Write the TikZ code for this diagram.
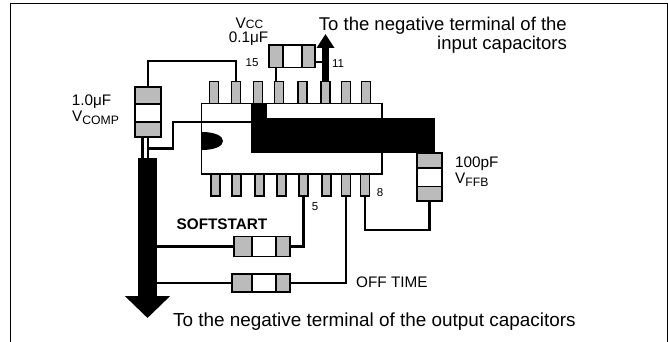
\documentclass[tikz,border=0pt]{standalone}
\usepackage{fontspec}
\setmainfont{Liberation Sans}
\usetikzlibrary{arrows.meta,positioning}
\newcommand{\lowtext}[1]{\raisebox{-3pt}{\fontsize{12.2}{12.2}\selectfont #1}}
\definecolor{pingray}{HTML}{BBBBBB}
\tikzset{
	wire/.style={line width=2.2pt},
	part/.style={draw,line width=1.2pt,inner sep=0pt,outer sep=0pt},
	pinbox/.style={part,fill=pingray,minimum width=9pt,minimum height=22pt},
	lbl/.style={inner sep=0pt,font=\fontsize{15.3}{17}\selectfont},
	biglbl/.style={inner sep=0pt,font=\fontsize{18.5}{19}\selectfont},
	numlbl/.style={inner sep=0pt,font=\fontsize{11.5}{12}\selectfont},
}
\begin{document}
\begin{tikzpicture}[x=1pt,y=-1pt]
	\useasboundingbox (0,0) rectangle (668,342);
	\draw[line width=1pt] (10.5,342) -- (10.5,3.7) -- (667,3.7) -- (667,342);
	
	% package with its pins
	\node[part,fill=white,minimum width=180.5pt,minimum height=70.5pt] (ic) at (291.75,138.75) {};
	\foreach \n/\px in {1/214,2/236,3/258,4/279,5/302.5,6/325.5,7/346,8/366}
		\node[pinbox] (top\n) at (\px,92.25) {};
	\foreach \n/\px in {1/215.5,2/236.5,3/259.5,4/281.5,5/303.5,6/326.5,7/346,8/365}
		\node[pinbox] (bot\n) at (\px,185) {};
	
	% black areas
	\node[fill=black,inner sep=0pt,minimum width=184pt,minimum height=35pt,anchor=north west] (plane) at (251,118) {};
	\node[fill=black,inner sep=0pt,minimum width=16pt,minimum height=15pt,anchor=south west] (tab) at (251,118.2) {};
	\fill (202,132) .. controls (215,132) and (223,136) .. (223,141) .. controls (223,146) and (215,150) .. (202,150) -- cycle;
	
	% upright capacitors
	\node[part,fill=pingray,minimum width=26pt,minimum height=17pt] (compa) at (148,95.5) {};
	\node[part,fill=white,minimum width=26pt,minimum height=18pt,below=0pt of compa] (compb) {};
	\node[part,fill=pingray,minimum width=26pt,minimum height=15pt,below=0pt of compb] (compc) {};
	\node[part,fill=pingray,minimum width=25pt,minimum height=15pt] (ffba) at (429.5,160.5) {};
	\node[part,fill=white,minimum width=25pt,minimum height=18.5pt,below=0pt of ffba] (ffbb) {};
	\node[part,fill=pingray,minimum width=25pt,minimum height=14.5pt,below=0pt of ffbb] (ffbc) {};
	
	% lying capacitors
	\node[part,fill=pingray,minimum width=14pt,minimum height=22.5pt] (vcca) at (276,56.3) {};
	\node[part,fill=white,minimum width=19pt,minimum height=22.5pt,right=0pt of vcca] (vccb) {};
	\node[part,fill=pingray,minimum width=13pt,minimum height=22.5pt,right=0pt of vccb] (vccc) {};
	\node[part,fill=pingray,minimum width=18pt,minimum height=19.5pt] (softa) at (243,246.5) {};
	\node[part,fill=white,minimum width=24pt,minimum height=19.5pt,right=0pt of softa] (softb) {};
	\node[part,fill=pingray,minimum width=14pt,minimum height=19.5pt,right=0pt of softb] (softc) {};
	\node[part,fill=pingray,minimum width=20pt,minimum height=18pt] (offa) at (242,283) {};
	\node[part,fill=white,minimum width=24pt,minimum height=18pt,right=0pt of offa] (offb) {};
	\node[part,fill=pingray,minimum width=14pt,minimum height=18pt,right=0pt of offb] (offc) {};
	
	% thick arrows
	\coordinate (bus) at (157,158);
	\coordinate (gndtop) at (147.5,158);
	\coordinate (gndtip) at (147.5,318);
	\coordinate (vintip) at (325.5,34);
	\draw[line width=19pt,-{Triangle[width=44pt,length=22pt]}] (gndtop) -- (gndtip);
	\draw[line width=7pt,-{Triangle[width=17pt,length=14pt]}] (top6.north) -- (vintip);
	
	% wires
	\draw[wire] (compa.north) -- ++(0,-25.8) -| (top2.north);
	\draw[wire] ([xshift=-5.5pt]compc.south) -- ([xshift=-5.5pt]compc.south |- gndtop);
	\draw[wire] (compc.south) -- (compc.south |- gndtop);
	\draw[wire] ([yshift=-11.5pt]compc.south) -- ++(25,0) |- ([yshift=13.8pt]plane.west);
	\draw[wire] (vcca.south) -- (vcca.south |- top4.north);
	\draw[wire] ([yshift=-5.4pt]vccc.east) -- ([yshift=-5.4pt]vccc.east -| top6);
	\draw[wire] (ffbc.south) -- ++(0,29) -| (bot8.south);
	\draw[wire] (softa.west) -- (softa.west -| bus);
	\draw[wire] (softc.east) -| (bot5.south);
	\draw[wire] (offa.west) -- (offa.west -| bus);
	\draw[wire] (offc.east) -| (bot7.south);
	
	% labels
	\node[lbl] (vcclbl) at (249.5,23) {V{\fontsize{12}{12}\selectfont CC}};
	\node[lbl] (vccval) at (248.5,39) {0.1μF};
	\node[lbl] (compval) at (91.5,102) {1.0μF};
	\node[lbl,anchor=west] (complbl) at (72,118) {V\lowtext{COMP}};
	\node[lbl,anchor=west] (ffbval) at (455,164) {100pF};
	\node[lbl,anchor=west] (ffblbl) at (455,180) {V\lowtext{FFB}};
	\node[numlbl] (n15) at (252,63) {15};
	\node[numlbl] (n11) at (338,64) {11};
	\node[numlbl] (n5) at (315,207) {5};
	\node[numlbl] (n8) at (380,193) {8};
	\node[lbl,font=\fontsize{15.3}{17}\selectfont\bfseries] (softlbl) at (222,224) {SOFTSTART};
	\node[lbl,anchor=west] (offlbl) at (356,282) {OFF TIME};
	\node[biglbl,align=right,anchor=east] (vinlbl) at (567,35.5) {To the negative terminal of the\\input capacitors};
	\node[biglbl,anchor=west,font=\fontsize{18.9}{19}\selectfont] (outlbl) at (173,321.5) {To the negative terminal of the output capacitors};
\end{tikzpicture}
\end{document}
